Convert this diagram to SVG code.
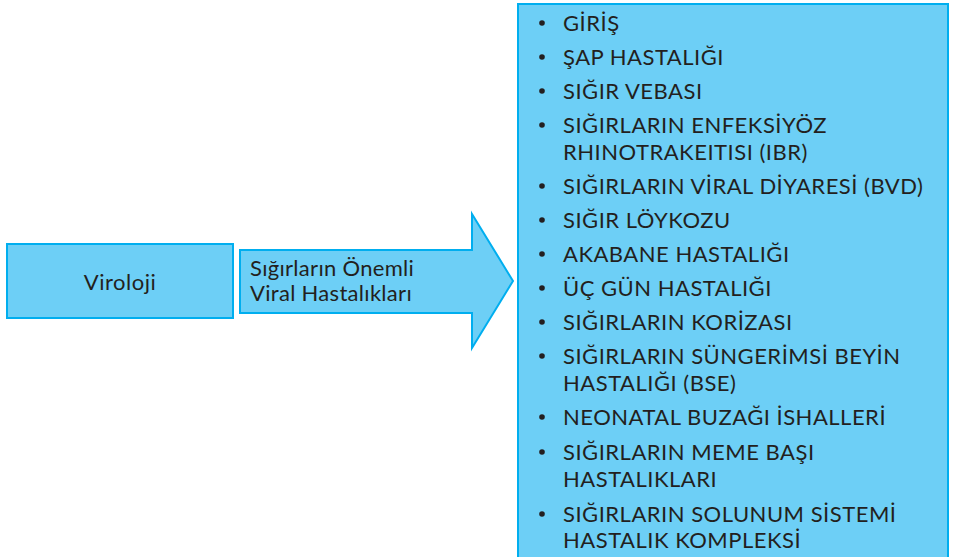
<svg xmlns="http://www.w3.org/2000/svg" width="954" height="557" viewBox="0 0 954 557">
  <style>
    .shape { fill: #6dcff6; stroke: #00aeef; stroke-width: 2; }
    .label { font-family: Lato, "Open Sans", "DejaVu Sans", sans-serif; font-size: 22px; letter-spacing: 0.5px; fill: #231f20; }
    .tight { letter-spacing: 0.3px; }
    .dot { fill: #231f20; }
  </style>
  <rect width="954" height="557" fill="#ffffff"/>

  <g id="viroloji">
    <rect class="shape" x="7" y="244" width="226" height="74"/>
    <text class="label" x="120" y="290" text-anchor="middle">Viroloji</text>
  </g>

  <g id="connectors">
    <g id="arrow-onemli-hastaliklar">
      <polygon class="shape" points="240,250 472,250 472,214 513,281 472,348 472,313 240,313"/>
      <text class="label tight" x="250" y="276">Sığırların Önemli</text>
      <text class="label tight" x="250" y="301">Viral Hastalıkları</text>
    </g>
  </g>

  <g id="hastalik-listesi">
    <rect class="shape" x="518" y="4" width="430" height="560"/>
    <g class="dot">
      <circle cx="542" cy="23" r="2.8"/>
      <circle cx="542" cy="57" r="2.8"/>
      <circle cx="542" cy="91" r="2.8"/>
      <circle cx="542" cy="125" r="2.8"/>
      <circle cx="542" cy="186" r="2.8"/>
      <circle cx="542" cy="220" r="2.8"/>
      <circle cx="542" cy="254" r="2.8"/>
      <circle cx="542" cy="288" r="2.8"/>
      <circle cx="542" cy="322" r="2.8"/>
      <circle cx="542" cy="356" r="2.8"/>
      <circle cx="542" cy="417" r="2.8"/>
      <circle cx="542" cy="452" r="2.8"/>
      <circle cx="542" cy="514" r="2.8"/>
    </g>
    <g class="label">
      <text x="563" y="31">GİRİŞ</text>
      <text x="563" y="65">ŞAP HASTALIĞI</text>
      <text x="563" y="99">SIĞIR VEBASI</text>
      <text x="563" y="133">SIĞIRLARIN ENFEKSİYÖZ</text>
      <text x="563" y="160">RHINOTRAKEITISI (IBR)</text>
      <text x="563" y="194">SIĞIRLARIN VİRAL DİYARESİ (BVD)</text>
      <text x="563" y="228">SIĞIR LÖYKOZU</text>
      <text x="563" y="262">AKABANE HASTALIĞI</text>
      <text x="563" y="296">ÜÇ GÜN HASTALIĞI</text>
      <text x="563" y="330">SIĞIRLARIN KORİZASI</text>
      <text x="563" y="364">SIĞIRLARIN SÜNGERİMSİ BEYİN</text>
      <text x="563" y="391">HASTALIĞI (BSE)</text>
      <text x="563" y="425">NEONATAL BUZAĞI İSHALLERİ</text>
      <text x="563" y="460">SIĞIRLARIN MEME BAŞI</text>
      <text x="563" y="487">HASTALIKLARI</text>
      <text x="563" y="522">SIĞIRLARIN SOLUNUM SİSTEMİ</text>
      <text x="563" y="548">HASTALIK KOMPLEKSİ</text>
    </g>
  </g>
</svg>
